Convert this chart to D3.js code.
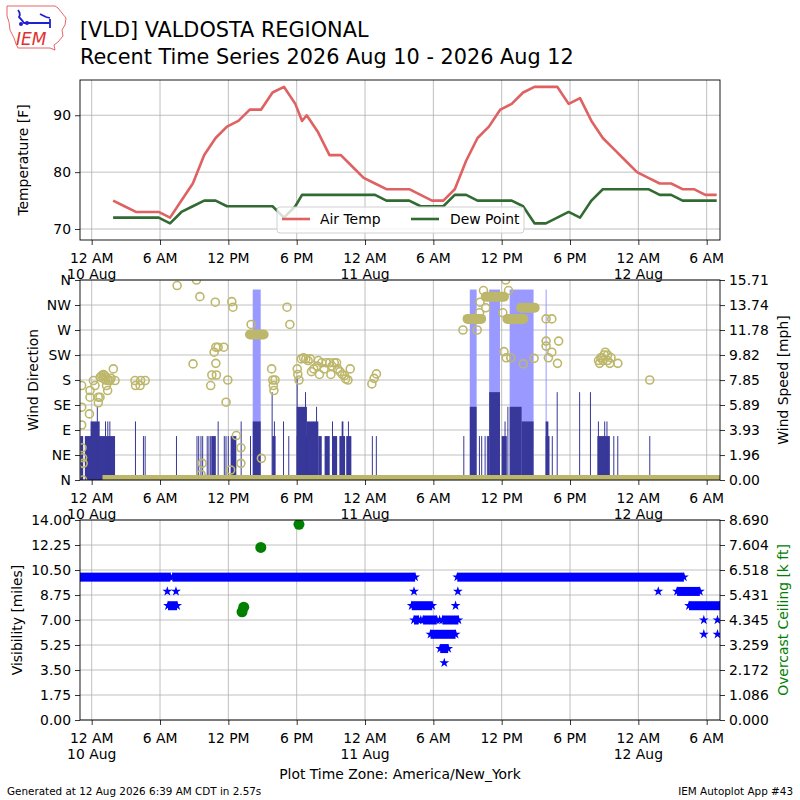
<!DOCTYPE html>
<html>
<head>
<meta charset="utf-8">
<script src="https://cdn.jsdelivr.net/npm/d3@7"></script>
<style>
  body { margin: 0; background: #fff; }
  text { font-family: "DejaVu Sans", sans-serif; }
</style>
</head>
<body>
<svg id="chart" width="800" height="800"></svg>
<script>
// All times are hours since 10 Aug 2026 00:00 America/New_York

// 1) Hourly METAR temperatures (plus one special at 18:28)
const obsHours = [1.88, 2.88, 3.88, 4.88, 5.88, 6.88, 7.88, 8.88, 9.88, 10.88, 11.88, 12.88, 13.88, 14.88,
  15.88, 16.88, 17.88, 18.47, 18.88, 19.88, 20.88, 21.88, 22.88, 23.88, 24.88, 25.88, 26.88, 27.88, 28.88,
  29.88, 30.88, 31.88, 32.88, 33.88, 34.88, 35.88, 36.88, 37.88, 38.88, 39.88, 40.88, 41.88, 42.88, 43.88,
  44.88, 45.88, 46.88, 47.88, 48.88, 49.88, 50.88, 51.88, 52.88, 53.88, 54.88];
const airTemp = [75, 74, 73, 73, 73, 72, 75, 78, 83, 86, 88, 89, 91, 91,
  94, 95, 92, 89, 90, 87, 83, 83, 81, 79, 78, 77, 77, 77, 76,
  75, 75, 77, 82, 86, 88, 91, 92, 94, 95, 95, 95, 92, 93, 89,
  86, 84, 82, 80, 79, 78, 78, 77, 77, 76, 76];
const dewPoint = [72, 72, 72, 72, 72, 71, 73, 74, 75, 75, 74, 74, 74, 74,
  74, 72, 74, 76, 76, 76, 76, 76, 76, 76, 76, 75, 75, 75, 74,
  74, 74, 76, 76, 75, 75, 75, 75, 74, 71, 71, 72, 73, 72, 75,
  77, 77, 77, 77, 77, 76, 76, 75, 75, 75, 75];

// 2) One-minute wind: [start hour, end hour, mph]; start == end is a single report
const windRuns = [
  [-1.0, -0.75, 3.45], [-0.6, 2.05, 3.45], [-0.1, 0.7, 4.6], [0.45, 0.45, 5.75],
  [1.17, 1.17, 4.6], [1.37, 1.37, 4.6], [1.55, 1.55, 4.6], [3.8, 3.8, 4.6],
  [4.5, 4.5, 3.45], [4.65, 4.65, 3.45], [7.4, 7.4, 3.45],
  [9.2, 9.2, 3.45], [9.35, 9.35, 3.45], [9.55, 9.55, 3.45], [9.7, 9.7, 3.45],
  [10.1, 10.1, 3.45], [10.25, 10.25, 3.45], [10.4, 10.4, 3.45], [10.5, 10.9, 3.45], [11.06, 11.06, 4.6],
  [11.6, 11.6, 3.45], [11.75, 11.75, 3.45], [11.95, 11.95, 3.45], [12.2, 12.7, 3.45], [13.08, 13.08, 4.6],
  [13.9, 13.9, 3.45], [14.14, 14.84, 4.6], [15.8, 15.8, 6.9], [15.85, 16.15, 3.45], [16.0, 16.0, 4.6],
  [16.8, 16.8, 4.6], [17.26, 17.26, 3.45],
  [18.0, 19.9, 3.45], [18.0, 18.9, 5.75], [18.0, 18.0, 8.06], [18.73, 18.73, 6.9], [18.9, 19.9, 4.6],
  [19.7, 19.7, 5.75], [19.9, 20.2, 3.45], [20.45, 20.9, 3.45], [21.1, 21.55, 3.45], [21.1, 21.1, 4.6],
  [21.75, 22.25, 3.45], [21.95, 22.1, 4.6], [22.35, 22.8, 3.45], [22.5, 22.5, 4.6],
  [24.6, 24.6, 3.45], [24.95, 24.95, 3.45],
  [32.63, 32.63, 3.45], [33.2, 33.8, 5.75], [34.0, 34.0, 3.45], [34.2, 34.2, 3.45], [34.5, 34.5, 3.45],
  [34.7, 34.7, 3.45], [34.8, 34.8, 3.45], [34.9, 35.85, 6.9], [36.0, 36.45, 3.45], [36.25, 36.25, 4.6],
  [36.5, 36.5, 5.75], [36.7, 37.75, 5.75], [37.75, 38.8, 4.6], [39.86, 40.1, 4.6], [39.86, 40.2, 3.45],
  [40.4, 40.4, 3.45], [40.83, 40.83, 6.9], [42.8, 42.8, 6.9], [43.75, 43.75, 6.9],
  [44.4, 45.5, 3.45], [44.45, 44.45, 4.6], [45.0, 45.0, 4.6], [45.2, 45.2, 4.6],
  [45.8, 45.8, 3.45], [46.15, 46.15, 3.45], [48.96, 48.96, 3.45]
];
const gustRuns = [[14.14, 14.84, 14.96], [33.2, 33.8, 14.96], [34.9, 35.85, 14.96], [36.7, 38.8, 14.96],
  [39.86, 39.86, 14.96]];

// 3) Wind direction: single reports [hour, deg], steady spells [start, end, deg], calm spells
const dirPoints = [
  [-0.88, 170], [-0.88, 131], [-0.88, 99], [-0.85, 58], [-0.8, 40], [-0.75, 30], [-0.8, 0],
  [-0.15, 161], [-0.15, 149], [-0.2, 119], [0.15, 179], [0.29, 170], [0.58, 149], [0.58, 139],
  [0.73, 149], [0.75, 185], [0.88, 188], [1.0, 183], [1.03, 190], [1.15, 188], [1.2, 180], [1.25, 185],
  [1.3, 170], [1.4, 161], [1.45, 179], [1.6, 179], [1.7, 183], [1.9, 200], [2.05, 179],
  [3.8, 179], [3.85, 170], [4.25, 170], [4.3, 179], [4.7, 179],
  [7.5, 350], [9.2, 360], [9.5, 330], [8.9, 209], [10.85, 320], [10.75, 230], [10.9, 239], [11.1, 239],
  [11.6, 239], [10.9, 210], [10.55, 189], [10.95, 189], [10.45, 170], [11.95, 180], [11.8, 140],
  [12.3, 321], [12.4, 311], [14.0, 280], [17.15, 311], [17.4, 280], [15.8, 200], [15.9, 180], [16.1, 180],
  [15.95, 170], [16.0, 161], [12.7, 80], [13.1, 58], [13.1, 30], [12.2, 18], [9.7, 30], [9.6, 10],
  [14.9, 39],
  [18.05, 200], [18.1, 190], [18.2, 180], [18.4, 218], [18.6, 220], [18.8, 218], [19.0, 215], [19.2, 218],
  [19.5, 200], [19.8, 205], [19.9, 215], [20.2, 211], [20.4, 200], [20.6, 211], [20.9, 211], [21.1, 205],
  [21.3, 211], [21.5, 211], [21.6, 200], [21.8, 195], [22.0, 190], [22.2, 188], [22.3, 182], [22.5, 180],
  [22.7, 200], [20.0, 190], [19.3, 195], [21.0, 190], [24.6, 173], [24.8, 183], [25.0, 191],
  [32.6, 270], [33.85, 270], [34.06, 301], [34.1, 320], [34.4, 341], [34.6, 310], [36.35, 360],
  [36.6, 341], [36.1, 301], [36.2, 231], [36.4, 220], [36.8, 220], [37.9, 209], [38.85, 219],
  [39.9, 290], [40.4, 290], [39.9, 250], [39.9, 241], [41.0, 250], [40.4, 230], [40.1, 220], [40.9, 210],
  [44.5, 215], [44.6, 210], [44.7, 220], [44.8, 220], [44.9, 215], [45.0, 225], [45.1, 230], [45.3, 215],
  [45.3, 225], [45.5, 210], [45.6, 220], [46.2, 210], [49.0, 180]
];
const dirSpells = [[13.9, 15.1, 262], [33.0, 34.2, 290], [34.6, 36.2, 330], [36.5, 37.9, 290], [37.7, 38.9, 310]];
const calmSpells = [[1.3, 55.17]];

// 4) Visibility [miles]: steady spells [start, end, miles] and single reports [hour, miles]
const visSpells = [[-1.03, 6.9, 10], [7.1, 28.4, 10], [6.7, 7.5, 8], [28.1, 29.9, 8],
  [28.3, 28.7, 7], [29.1, 30.3, 7], [30.8, 32.2, 7],
  [29.75, 31.95, 6], [30.6, 31.3, 5], [32.1, 52.0, 10], [51.4, 53.4, 9], [52.45, 55.17, 8]];
const visPoints = [[6.64, 9], [7.4, 9], [28.3, 9], [32.15, 9], [31.95, 8], [30.96, 4], [49.75, 9],
  [53.75, 7], [54.95, 7], [53.75, 6], [54.95, 6], [28.9, 7], [30.55, 7]];
const ceilHours = [13.2, 13.35, 14.85, 18.2];
const ceilKft = [4.7, 4.9, 7.5, 8.5];

// 5) Axis ticks
const tickHours = [0, 6, 12, 18, 24, 30, 36, 42, 48, 54];
const tickTimes = ["12 AM", "6 AM", "12 PM", "6 PM", "12 AM", "6 AM", "12 PM", "6 PM", "12 AM", "6 AM"];
const tickDates = ["10 Aug", "", "", "", "11 Aug", "", "", "", "12 Aug", ""];
const tempTicks = [70, 80, 90];
const dirTicks = [0, 45, 90, 135, 180, 225, 270, 315, 360];
const dirLabels = ["N", "NE", "E", "SE", "S", "SW", "W", "NW", "N"];
const speedLabels = ["0.00", "1.96", "3.93", "5.89", "7.85", "9.82", "11.78", "13.74", "15.71"];
const visLabels = ["0.00", "1.75", "3.50", "5.25", "7.00", "8.75", "10.50", "12.25", "14.00"];
const ceilLabels = ["0.000", "1.086", "2.172", "3.259", "4.345", "5.431", "6.518", "7.604", "8.690"];

// ---------------------------------------------------------------------------
const svg = d3.select("#chart");
const FS = 13.9;
const left = 80, right = 720;
const x = d3.scaleLinear().domain([-1.027, 55.17]).range([left, right]);

const yTemp = d3.scaleLinear().domain([68.07, 96.2]).range([240, 80]);
const yDir = d3.scaleLinear().domain([0, 360]).range([480, 280]);
const ySpeed = d3.scaleLinear().domain([0, 15.71]).range([480, 280]);
const yVis = d3.scaleLinear().domain([0, 14]).range([720, 520]);
const yCeil = d3.scaleLinear().domain([0, 8.69]).range([720, 520]);

// Panel chrome: clip, grid, bottom time axis with two-line labels
function panel(id, top, bottom, yScale, yTicks) {
  svg.append("clipPath").attr("id", id).append("rect")
    .attr("x", left).attr("y", top).attr("width", right - left).attr("height", bottom - top);
  const grid = svg.append("g").attr("stroke", "#b0b0b0").attr("stroke-width", 0.8);
  grid.selectAll("line.v").data(tickHours).join("line").attr("class", "v")
    .attr("x1", (d) => x(d)).attr("x2", (d) => x(d)).attr("y1", top).attr("y2", bottom);
  grid.selectAll("line.h").data(yTicks).join("line").attr("class", "h")
    .attr("x1", left).attr("x2", right).attr("y1", (d) => yScale(d)).attr("y2", (d) => yScale(d));

  const ax = svg.append("g").attr("transform", `translate(0,${bottom})`)
    .call(d3.axisBottom(x).tickValues(tickHours).tickSize(5).tickSizeOuter(0).tickFormat(""));
  ax.select(".domain").remove();
  ax.selectAll("line").attr("stroke", "#000").attr("stroke-width", 0.8);
  const lab = svg.append("g").attr("font-size", FS).attr("text-anchor", "middle");
  lab.selectAll("text.t").data(tickHours).join("text").attr("class", "t")
    .attr("x", (d) => x(d)).attr("y", bottom + 22.5).text((d, i) => tickTimes[i]);
  lab.selectAll("text.d").data(tickHours).join("text").attr("class", "d")
    .attr("x", (d) => x(d)).attr("y", bottom + 38.5).text((d, i) => tickDates[i]);
  return { top, bottom };
}

function leftAxis(scale, values, labels) {
  const g = svg.append("g").attr("transform", `translate(${left},0)`)
    .call(d3.axisLeft(scale).tickValues(values).tickSize(5).tickSizeOuter(0).tickPadding(4)
      .tickFormat((d, i) => labels[i]));
  styleAxis(g);
}

function rightAxis(scale, values, labels) {
  const g = svg.append("g").attr("transform", `translate(${right},0)`)
    .call(d3.axisRight(scale).tickValues(values).tickSize(5).tickSizeOuter(0).tickPadding(4)
      .tickFormat((d, i) => labels[i]));
  styleAxis(g);
}

function styleAxis(g) {
  g.select(".domain").remove();
  g.selectAll("line").attr("stroke", "#000").attr("stroke-width", 0.8);
  g.selectAll("text").attr("font-size", FS).attr("font-family", "DejaVu Sans").attr("fill", "#000");
}

function frame(top, bottom) {
  svg.append("rect").attr("x", left).attr("y", top).attr("width", right - left).attr("height", bottom - top)
    .attr("fill", "none").attr("stroke", "#000").attr("stroke-width", 0.9);
}

function yLabel(text, cx, cy, rot, color) {
  svg.append("text").attr("transform", `translate(${cx},${cy}) rotate(${rot})`)
    .attr("text-anchor", "middle").attr("dominant-baseline", "central")
    .attr("font-size", FS).attr("fill", color || "#000").text(text);
}

// ---- Panel 1: temperature
panel("clipTemp", 80, 240, yTemp, tempTicks);
const tempLine = (vals) => d3.line().x((d, i) => x(obsHours[i])).y((d) => yTemp(d))(vals);
const tg = svg.append("g").attr("clip-path", "url(#clipTemp)").attr("fill", "none")
  .attr("stroke-width", 2.6).attr("stroke-linejoin", "round");
tg.append("path").attr("d", tempLine(airTemp)).attr("stroke", "#df6162");
tg.append("path").attr("d", tempLine(dewPoint)).attr("stroke", "#326b32");
leftAxis(yTemp, tempTicks, tempTicks.map(String));
yLabel("Temperature [F]", 23, 160, -90);

// legend
const lg = svg.append("g").attr("transform", "translate(277,207)");
lg.append("rect").attr("width", 247).attr("height", 26).attr("rx", 3)
  .attr("fill", "#fff").attr("fill-opacity", 0.8).attr("stroke", "#d0d0d0");
lg.append("line").attr("x1", 5).attr("x2", 33).attr("y1", 12).attr("y2", 12)
  .attr("stroke", "#df6162").attr("stroke-width", 2.6);
lg.append("text").attr("x", 43).attr("y", 17).attr("font-size", FS).text("Air Temp");
lg.append("line").attr("x1", 134).attr("x2", 162).attr("y1", 12).attr("y2", 12)
  .attr("stroke", "#326b32").attr("stroke-width", 2.6);
lg.append("text").attr("x", 173).attr("y", 17).attr("font-size", FS).text("Dew Point");
frame(80, 240);

// ---- Panel 2: wind
panel("clipWind", 280, 480, yDir, dirTicks);
const wg = svg.append("g").attr("clip-path", "url(#clipWind)");
const barRect = (sel, color) => sel
  .attr("x", (d) => x(d[0]))
  .attr("width", (d) => Math.max(1, x(d[1]) - x(d[0])))
  .attr("y", (d) => ySpeed(d[2]))
  .attr("height", (d) => 480 - ySpeed(d[2]))
  .attr("fill", color);
wg.selectAll("rect.gust").data(gustRuns).join("rect").attr("class", "gust").call(barRect, "#9999ff");
wg.selectAll("rect.wind").data(windRuns).join("rect").attr("class", "wind").call(barRect, "#38389a");

const khaki = "#bdb76b";
wg.selectAll("rect.calm").data(calmSpells).join("rect").attr("class", "calm")
  .attr("x", (d) => x(d[0]) - 4).attr("width", (d) => x(d[1]) - x(d[0]) + 8)
  .attr("y", yDir(0) - 5).attr("height", 5).attr("fill", khaki);
wg.selectAll("line.spell").data(dirSpells).join("line").attr("class", "spell")
  .attr("x1", (d) => x(d[0])).attr("x2", (d) => x(d[1]))
  .attr("y1", (d) => yDir(d[2])).attr("y2", (d) => yDir(d[2]))
  .attr("stroke", khaki).attr("stroke-width", 10).attr("stroke-linecap", "round");
wg.selectAll("circle.dir").data(dirPoints).join("circle").attr("class", "dir")
  .attr("cx", (d) => x(d[0])).attr("cy", (d) => yDir(d[1])).attr("r", 4)
  .attr("fill", "none").attr("stroke", khaki).attr("stroke-width", 1.6);
leftAxis(yDir, dirTicks, dirLabels);
rightAxis(ySpeed, speedLabels.map(Number), speedLabels);
yLabel("Wind Direction", 33, 380, -90);
yLabel("Wind Speed [mph]", 783, 380, -90);
frame(280, 480);

// ---- Panel 3: visibility + ceiling
panel("clipVis", 520, 720, yVis, visLabels.map(Number));
const vg = svg.append("g").attr("clip-path", "url(#clipVis)").attr("fill", "#0000ff");
const star = d3.symbol().type(d3.symbolStar).size(30);
vg.selectAll("rect.vis").data(visSpells).join("rect").attr("class", "vis")
  .attr("x", (d) => x(d[0])).attr("width", (d) => x(d[1]) - x(d[0]))
  .attr("y", (d) => yVis(d[2]) - 4.5).attr("height", 9);
const starAt = [...visSpells.flatMap((d) => [[d[0], d[2]], [d[1], d[2]]]), ...visPoints];
vg.selectAll("path.star").data(starAt).join("path").attr("class", "star").attr("d", star)
  .attr("transform", (d) => `translate(${x(d[0])},${yVis(d[1])})`);
vg.selectAll("circle.ceil").data(ceilHours).join("circle").attr("class", "ceil")
  .attr("cx", (d) => x(d)).attr("cy", (d, i) => yCeil(ceilKft[i])).attr("r", 5.5).attr("fill", "#008000");
leftAxis(yVis, visLabels.map(Number), visLabels);
rightAxis(yCeil, ceilLabels.map(Number), ceilLabels);
yLabel("Visibility [miles]", 17, 620, -90);
yLabel("Overcast Ceiling [k ft]", 783, 620, -90, "#008000");
frame(520, 720);

// ---- Titles and footer
svg.append("text").attr("x", 80).attr("y", 37).attr("font-size", 20.8).text("[VLD] VALDOSTA REGIONAL");
svg.append("text").attr("x", 80).attr("y", 64).attr("font-size", 20.8)
  .text("Recent Time Series 2026 Aug 10 - 2026 Aug 12");
svg.append("text").attr("x", 400).attr("y", 779).attr("font-size", FS).attr("text-anchor", "middle")
  .text("Plot Time Zone: America/New_York");
svg.append("text").attr("x", 7).attr("y", 795).attr("font-size", 10.4)
  .text("Generated at 12 Aug 2026 6:39 AM CDT in 2.57s");
svg.append("text").attr("x", 793).attr("y", 795).attr("font-size", 10.4).attr("text-anchor", "end")
  .text("IEM Autoplot App #43");

// IEM logo (rough)
const logo = svg.append("g");
logo.append("path")
  .attr("d", "M7,6 L55,6 L58,8 L62,13 L66,18 L65,25 L62,30 L63,36 L58,42 L54,45 L55,50 L50,48 L18,48 L16,44 L14,38 L10,30 L9,22 L7,16 Z")
  .attr("fill", "none").attr("stroke", "#e04040").attr("stroke-width", 0.8);
logo.append("path").attr("d", "M18,10 Q21,14 19,17 Q22,20 24,23 L50,23 M40,14 L46,17 L50,18 M50,19 L50,28")
  .attr("fill", "none").attr("stroke", "#2020d0").attr("stroke-width", 1.8);
logo.append("circle").attr("cx", 21).attr("cy", 24).attr("r", 2).attr("fill", "#2020d0");
logo.append("circle").attr("cx", 27).attr("cy", 23).attr("r", 2).attr("fill", "#2020d0");
logo.append("text").attr("x", 16).attr("y", 45).attr("font-family", "Liberation Serif")
  .attr("font-style", "italic").attr("font-size", 17).attr("fill", "#e03030").text("IEM");
</script>
</body>
</html>
